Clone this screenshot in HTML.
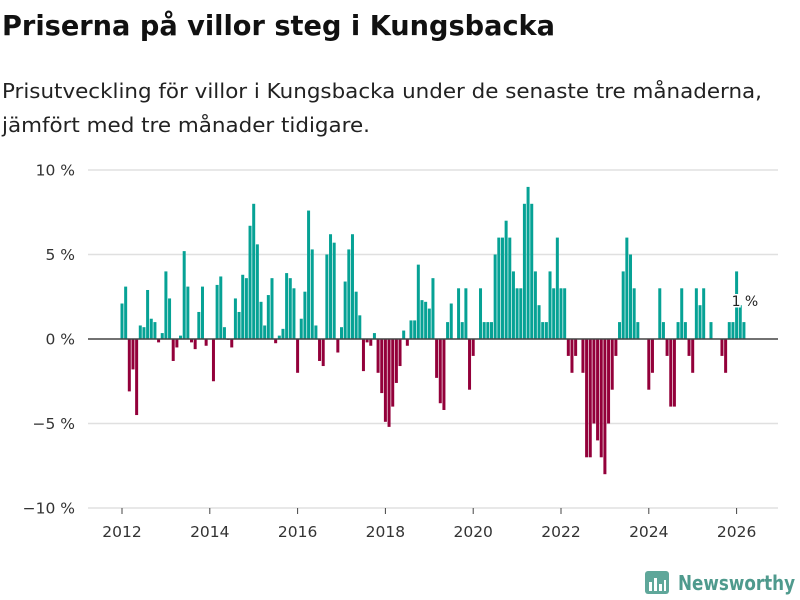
<!DOCTYPE html>
<html><head><meta charset="utf-8"><style>
body{margin:0;background:#fff;font-family:"DejaVu Sans","Liberation Sans",sans-serif;}
#wrap{position:relative;width:800px;height:600px;overflow:hidden;}
</style></head><body>
<div id="wrap">
<svg id="chart" width="800" height="600" style="position:absolute;left:0;top:0">
<text x="2" y="35" font-size="28" font-weight="bold" fill="#111" textLength="553" lengthAdjust="spacingAndGlyphs">Priserna på villor steg i Kungsbacka</text>
<text x="2" y="98" font-size="20" fill="#222" textLength="760" lengthAdjust="spacingAndGlyphs">Prisutveckling för villor i Kungsbacka under de senaste tre månaderna,</text>
<text x="2" y="132" font-size="20" fill="#222" textLength="368" lengthAdjust="spacingAndGlyphs">jämfört med tre månader tidigare.</text>
<g>
<rect x="645" y="571" width="24" height="23" rx="3" fill="#5fa79a"/><rect x="649" y="582" width="3" height="9" fill="#fff"/><rect x="654" y="578" width="3" height="13" fill="#fff"/><rect x="659" y="584" width="3" height="7" fill="#fff"/><rect x="664" y="580" width="2" height="11" fill="#fff"/>
<text x="678" y="590" font-size="20" font-weight="bold" fill="#4f9a8d" textLength="117" lengthAdjust="spacingAndGlyphs">Newsworthy</text>
</g>
</svg>
</div>
<script>
const startYear = 2012;
const values = [
2.1,3.1,-3.1,-1.8,-4.5,0.8,0.7,2.9,1.2,1.0,-0.2,0.35,
4.0,2.4,-1.3,-0.5,0.2,5.2,3.1,-0.2,-0.6,1.6,3.1,-0.4,
0,-2.5,3.2,3.7,0.7,-0.05,-0.5,2.4,1.6,3.8,3.6,6.7,
8.0,5.6,2.2,0.8,2.6,3.6,-0.25,0.2,0.6,3.9,3.6,3.0,
-2.0,1.2,2.8,7.6,5.3,0.8,-1.3,-1.6,5.0,6.2,5.7,-0.8,
0.7,3.4,5.3,6.2,2.8,1.4,-1.9,-0.2,-0.4,0.35,-2.0,-3.2,
-4.9,-5.2,-4.0,-2.6,-1.6,0.5,-0.4,1.1,1.1,4.4,2.3,2.2,
1.8,3.6,-2.3,-3.8,-4.2,1.0,2.1,0,3.0,1.0,3.0,-3.0,
-1.0,0,3.0,1.0,1.0,1.0,5.0,6.0,6.0,7.0,6.0,4.0,
3.0,3.0,8.0,9.0,8.0,4.0,2.0,1.0,1.0,4.0,3.0,6.0,
3.0,3.0,-1.0,-2.0,-1.0,0,-2.0,-7.0,-7.0,-5.0,-6.0,-7.0,
-8.0,-5.0,-3.0,-1.0,1.0,4.0,6.0,5.0,3.0,1.0,0,0,
-3.0,-2.0,0,3.0,1.0,-1.0,-4.0,-4.0,1.0,3.0,1.0,-1.0,
-2.0,3.0,2.0,3.0,0,1.0,0,0,-1.0,-2.0,1.0,1.0,
4.0,2.0,1.0];
const yTicks = [10,5,0,-5,-10];
const yTickLabels = ["10 %","5 %","0 %","−5 %","−10 %"];
const xTicks = [2012,2014,2016,2018,2020,2022,2024,2026];
const lastLabel = "1 %";

const NS="http://www.w3.org/2000/svg";
const svg=document.getElementById('chart');
const FONT='"DejaVu Sans","Liberation Sans",sans-serif';
function x(monthIndex){return 122 + monthIndex*(43.9/12);}
function xYear(yr){return x((yr-startYear)*12);}
function y(v){return 339 - v*16.9;}
function mk(t,a){const e=document.createElementNS(NS,t);for(const k in a)e.setAttribute(k,a[k]);svg.appendChild(e);return e;}

yTicks.forEach((t,i)=>{
  if(t!==0){const g=mk('line',{x1:88,x2:778,y1:y(t),y2:y(t),stroke:'#e0e0e0','stroke-width':1.5});
  
  }
  const l=mk('text',{x:75,y:y(t)+5.5,'text-anchor':'end','font-size':15.5,fill:'#333','font-family':FONT});
  l.textContent=yTickLabels[i];
  
  
});
values.forEach((v,i)=>{
  if(v===0)return;
  const top=v>0?y(v):y(0), h=Math.abs(y(v)-y(0));
  const r=mk('rect',{x:x(i)-1.5,y:top,width:3,height:h,fill:v>0?'#06a295':'#93003a'});
  
  
});
const z=mk('line',{x1:88,x2:778,y1:y(0),y2:y(0),stroke:'#444','stroke-width':1.5});


xTicks.forEach(yr=>{
  const tk=mk('line',{x1:xYear(yr),x2:xYear(yr),y1:508,y2:514,stroke:'#444','stroke-width':1});
  
  
  const l=mk('text',{x:xYear(yr),y:537,'text-anchor':'middle','font-size':15.5,fill:'#333','font-family':FONT});
  l.textContent=yr;
  
  
});
const li=values.length-1;
const ll=mk('text',{x:x(li)+1,y:y(values[li])-16,'text-anchor':'middle','font-size':14,fill:'#222',stroke:'#fff','stroke-width':3,'paint-order':'stroke','font-family':FONT});
ll.textContent=lastLabel;


</script>
</body></html>
